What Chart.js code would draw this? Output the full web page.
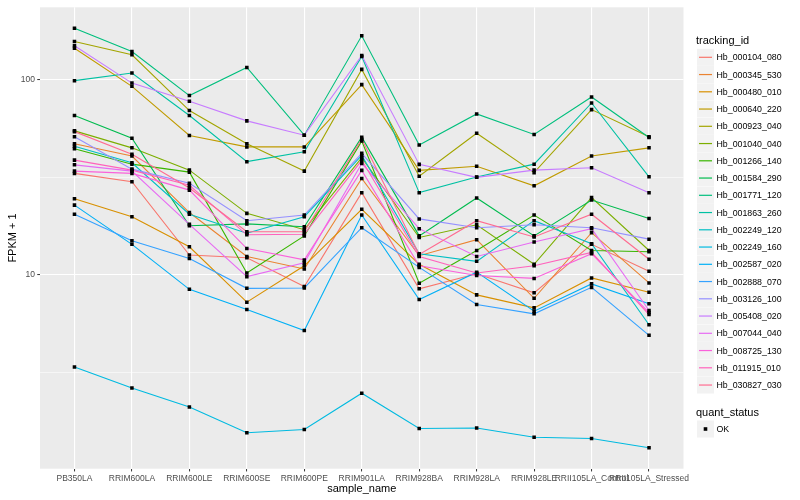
<!DOCTYPE html>
<html>
<head>
<meta charset="utf-8">
<script src="https://cdn.jsdelivr.net/npm/chart.js@4.4.0/dist/chart.umd.min.js"></script>
<style>
  html, body { margin: 0; padding: 0; background: #fff; }
  #wrap { position: relative; width: 800px; height: 500px; font-family: "Liberation Sans", Arial, sans-serif; }
  #chart { position: absolute; left: 0; top: 0; }
  .leg-title { position: absolute; left: 696px; font-size: 11px; line-height: 13px; color: #000; white-space: nowrap; }
  .lab { position: absolute; left: 716.5px; font-size: 8.8px; line-height: 10px; color: #000; white-space: nowrap; }
</style>
</head>
<body>
<div id="wrap">
  <canvas id="chart" width="800" height="500"></canvas>
</div>
<script>
// x categories
const samples = ['PB350LA', 'RRIM600LA', 'RRIM600LE', 'RRIM600SE', 'RRIM600PE', 'RRIM901LA',
  'RRIM928BA', 'RRIM928LA', 'RRIM928LE', 'RRII105LA_Control', 'RRII105LA_Stressed'];

// y axis breaks (log10), only majors get a label
const yBreaks = [3.162, 10, 31.62, 100];
const yTickLabels = ['', '10', '', '100'];

const trackingIds = ['Hb_000104_080', 'Hb_000345_530', 'Hb_000480_010', 'Hb_000640_220', 'Hb_000923_040',
  'Hb_001040_040', 'Hb_001266_140', 'Hb_001584_290', 'Hb_001771_120', 'Hb_001863_260',
  'Hb_002249_120', 'Hb_002249_160', 'Hb_002587_020', 'Hb_002888_070', 'Hb_003126_100',
  'Hb_005408_020', 'Hb_007044_040', 'Hb_008725_130', 'Hb_011915_010', 'Hb_030827_030'];

// FPKM + 1 per sample, one list per tracking id
const hb_000104_080 = [33.0, 29.9, 12.6, 12.2, 8.69, 26.3, 8.46, 10.1, 8.07, 14.3, 10.4];
const hb_000345_530 = [46.8, 40.5, 20.8, 12.4, 10.7, 31.1, 12.5, 15.1, 7.57, 16.4, 9.07];
const hb_000480_010 = [24.5, 19.8, 13.9, 7.23, 11.1, 21.6, 11.3, 7.88, 6.76, 9.62, 8.12];
const hb_000640_220 = [144.4, 92.1, 51.6, 45.1, 45.1, 94.0, 34.2, 35.9, 28.5, 40.5, 44.6];
const hb_000923_040 = [156.3, 133.7, 69.2, 46.8, 33.9, 112.5, 31.9, 53.0, 33.3, 70.0, 50.8];
const hb_001040_040 = [54.5, 44.6, 34.3, 20.6, 17.0, 39.7, 15.5, 18.0, 11.3, 24.8, 13.3];
const hb_001266_140 = [44.1, 36.8, 33.5, 10.2, 15.8, 48.3, 9.03, 13.3, 20.2, 13.3, 13.1];
const hb_001584_290 = [65.3, 50.0, 17.8, 18.2, 17.6, 50.6, 15.8, 24.7, 15.8, 24.1, 19.4];
const hb_001771_120 = [182.7, 139.0, 82.6, 115.1, 51.8, 167.1, 46.1, 66.5, 52.2, 81.2, 50.4];
const hb_001863_260 = [98.5, 107.7, 65.3, 37.9, 42.6, 131.0, 26.3, 31.6, 36.8, 75.7, 31.7];
const hb_002249_120 = [45.5, 37.4, 20.4, 16.3, 19.8, 40.8, 12.8, 11.7, 18.9, 14.4, 5.54];
const hb_002249_160 = [3.37, 2.63, 2.10, 1.55, 1.61, 2.47, 1.63, 1.64, 1.47, 1.45, 1.30];
const hb_002587_020 = [22.7, 14.3, 8.41, 6.63, 5.18, 20.2, 7.46, 10.3, 6.50, 8.97, 7.09];
const hb_002888_070 = [20.4, 14.9, 12.1, 8.51, 8.55, 17.4, 10.9, 7.03, 6.30, 8.61, 4.89];
const hb_003126_100 = [50.8, 34.7, 29.4, 18.9, 20.2, 41.8, 19.3, 17.4, 18.0, 17.4, 15.2];
const hb_005408_020 = [148.6, 95.7, 77.2, 61.3, 51.8, 132.6, 36.7, 31.5, 34.3, 35.3, 26.3];
const hb_007044_040 = [36.5, 33.9, 18.1, 9.77, 11.5, 37.1, 17.2, 12.4, 14.7, 17.2, 6.55];
const hb_008725_130 = [33.9, 33.0, 27.1, 13.6, 11.9, 34.2, 11.1, 9.9, 9.57, 12.8, 6.40];
const hb_011915_010 = [38.6, 34.3, 28.7, 16.0, 16.1, 38.5, 12.4, 10.2, 11.1, 13.0, 6.25];
const hb_030827_030 = [54.0, 41.4, 27.8, 16.6, 16.6, 49.4, 12.7, 18.9, 15.6, 20.4, 12.0];

const allSeries = [hb_000104_080, hb_000345_530, hb_000480_010, hb_000640_220, hb_000923_040,
  hb_001040_040, hb_001266_140, hb_001584_290, hb_001771_120, hb_001863_260,
  hb_002249_120, hb_002249_160, hb_002587_020, hb_002888_070, hb_003126_100,
  hb_005408_020, hb_007044_040, hb_008725_130, hb_011915_010, hb_030827_030];

// ggplot hue palette, 20 levels
const palette = ['#F8766D', '#EA8331', '#D89000', '#C09B00', '#A3A500', '#7CAE00', '#39B600', '#00BB4E',
  '#00BF7D', '#00C1A3', '#00BFC4', '#00BAE0', '#00B0F6', '#35A2FF', '#9590FF', '#C77CFF',
  '#E76BF3', '#FA62DB', '#FF62BC', '#FF6C91'];

const FONT = '"Liberation Sans", Arial, sans-serif';
const rowY = (i) => 57.3 + 17.25 * i;  // legend row centres
const okY = 429;

// grey panel behind the grid
const panelBg = {
  id: 'panelBg',
  beforeDraw(chart) {
    const { ctx, chartArea: a } = chart;
    ctx.save();
    ctx.fillStyle = '#EBEBEB';
    ctx.fillRect(a.left, a.top, a.right - a.left, a.bottom - a.top);
    ctx.restore();
  }
};

// legend keys (grey boxes with a line or a point), labels are html
const legendKeys = {
  id: 'legendKeys',
  afterDraw(chart) {
    const ctx = chart.ctx;
    ctx.save();
    palette.forEach((c, i) => {
      const cy = rowY(i);
      ctx.fillStyle = '#F2F2F2';
      ctx.fillRect(697, cy - 8.5, 17, 17);
      ctx.strokeStyle = c;
      ctx.lineWidth = 1.2;
      ctx.beginPath();
      ctx.moveTo(699, cy);
      ctx.lineTo(712, cy);
      ctx.stroke();
    });
    ctx.fillStyle = '#F2F2F2';
    ctx.fillRect(697, okY - 8.5, 17, 17);
    ctx.fillStyle = '#000';
    ctx.fillRect(703.7, okY - 1.8, 3.6, 3.6);
    ctx.restore();
  }
};

const isMajor = (ctx) => ctx.tick && (ctx.tick.value === 10 || ctx.tick.value === 100);

const lineSets = allSeries.map((vals, i) => ({
  label: trackingIds[i],
  data: vals.map((v, j) => ({ x: j, y: v })),
  borderColor: palette[i],
  borderWidth: 1.1,
  pointRadius: 0,
  fill: false,
  tension: 0,
  order: allSeries.length - i
}));

const pointSet = {
  label: 'OK',
  data: allSeries.flatMap(vals => vals.map((v, j) => ({ x: j, y: v }))),
  showLine: false,
  pointStyle: 'rect',
  pointRadius: 2.5,
  pointBackgroundColor: '#000',
  pointBorderWidth: 0,
  order: -1
};

new Chart(document.getElementById('chart'), {
  type: 'line',
  data: { datasets: [...lineSets, pointSet] },
  options: {
    responsive: false,
    animation: false,
    layout: { padding: { top: 5.7, right: 116.5, bottom: 0, left: 0 } },
    plugins: { legend: { display: false }, tooltip: { enabled: false } },
    scales: {
      x: {
        type: 'linear',
        min: -0.6,
        max: 10.6,
        afterBuildTicks: (s) => { s.ticks = samples.map((_, i) => ({ value: i })); },
        afterFit: (s) => { s.height = 31.3; },
        ticks: {
          callback: (v, i) => samples[i],
          autoSkip: false, maxRotation: 0, minRotation: 0,
          font: { family: FONT, size: 8.5 }, color: '#4D4D4D', padding: 2
        },
        grid: { color: '#FFFFFF', lineWidth: 1.1, tickLength: 2.75, tickColor: '#333333', tickWidth: 1 },
        border: { display: false },
        title: { display: true, text: 'sample_name', color: '#000', font: { family: FONT, size: 11 }, padding: { top: 0, bottom: 4 } }
      },
      y: {
        type: 'logarithmic',
        min: 1.015,
        max: 233.9,
        afterBuildTicks: (s) => { s.ticks = yBreaks.map(v => ({ value: v })); },
        afterFit: (s) => { s.width = 40; },
        ticks: {
          callback: (v, i) => yTickLabels[i],
          autoSkip: false,
          font: { family: FONT, size: 8.5 }, color: '#4D4D4D', padding: 2.2
        },
        grid: {
          color: '#FFFFFF',
          lineWidth: (ctx) => isMajor(ctx) ? 1.1 : 0.55,
          tickLength: 2.75,
          tickWidth: 1,
          tickColor: (ctx) => isMajor(ctx) ? '#333333' : 'rgba(0,0,0,0)'
        },
        border: { display: false },
        title: { display: true, text: 'FPKM + 1', color: '#000', font: { family: FONT, size: 11 }, padding: { top: 6, bottom: 0 } }
      }
    }
  },
  plugins: [panelBg, legendKeys]
});

// legend text
const wrap = document.getElementById('wrap');
function addText(cls, top, text) {
  const el = document.createElement('div');
  el.className = cls;
  el.style.top = top + 'px';
  el.textContent = text;
  wrap.appendChild(el);
}
addText('leg-title', 34, 'tracking_id');
trackingIds.forEach((id, i) => addText('lab', rowY(i) - 5, id));
addText('leg-title', 406, 'quant_status');
addText('lab', okY - 5, 'OK');
</script>
</body>
</html>
